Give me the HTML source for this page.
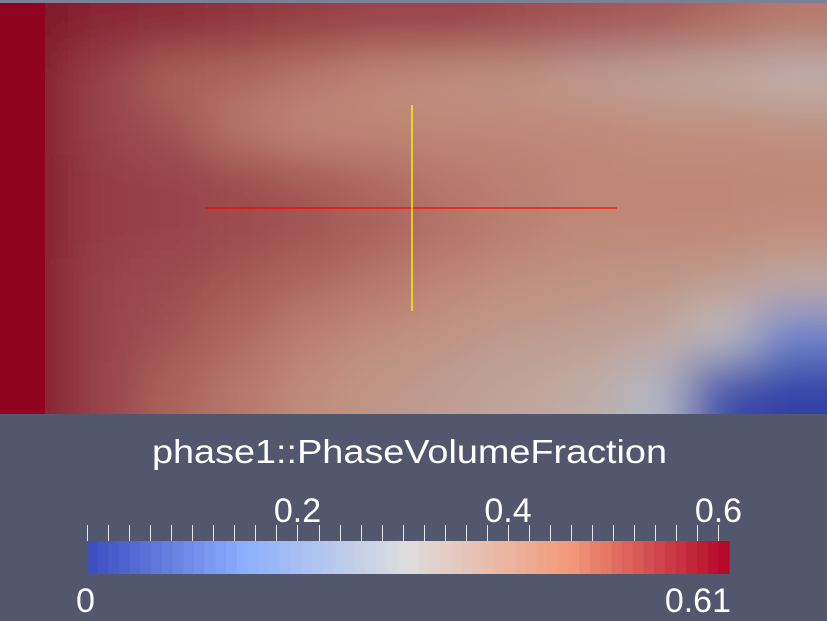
<!DOCTYPE html>
<html><head><meta charset="utf-8"><style>
body{margin:0;background:#52576e;width:827px;height:621px;overflow:hidden;font-family:"Liberation Sans","DejaVu Sans",sans-serif}
svg{display:block}
</style></head><body>
<svg id="chart" width="827" height="621" xmlns="http://www.w3.org/2000/svg">
<defs>
<filter id="blur" x="-0.2" y="-0.2" width="1.4" height="1.4"><feGaussianBlur stdDeviation="24"/></filter>
<clipPath id="clip"><rect x="0" y="0" width="827" height="414"/></clipPath>
</defs>
<rect width="827" height="621" fill="#52576e"/>
<g id="field" clip-path="url(#clip)">
<g id="cells" filter="url(#blur)"></g>
<rect x="0" y="0" width="45" height="414" fill="#900320"/>
</g>
<rect x="0" y="0" width="827" height="3" fill="#7c8094"/>
<line x1="205" y1="208" x2="617" y2="208" stroke="#ff0000" stroke-width="1.3"/>
<line x1="412" y1="105" x2="412" y2="311" stroke="#ffff00" stroke-width="1.3"/>
<text x="152" y="463" textLength="515" lengthAdjust="spacingAndGlyphs" fill="#fff" font-size="33">phase1::PhaseVolumeFraction</text>
<g id="cbarg"></g>
</svg>
<script>
const gridRows = [
[0.62,0.59,0.58,0.57,0.56,0.55,0.55,0.54,0.53,0.52,0.50,0.48],
[0.60,0.55,0.51,0.50,0.48,0.46,0.44,0.43,0.40,0.38,0.36,0.34],
[0.60,0.55,0.53,0.48,0.46,0.46,0.46,0.46,0.46,0.45,0.45,0.44],
[0.60,0.56,0.55,0.54,0.52,0.50,0.48,0.47,0.46,0.46,0.46,0.46],
[0.60,0.56,0.55,0.54,0.53,0.51,0.49,0.47,0.46,0.46,0.46,0.45],
[0.60,0.55,0.54,0.52,0.50,0.48,0.46,0.44,0.43,0.42,0.40,0.36],
[0.60,0.55,0.53,0.50,0.47,0.45,0.43,0.41,0.40,0.38,0.30,0.12],
[0.60,0.55,0.51,0.48,0.45,0.42,0.40,0.38,0.36,0.28,0.02,0.0]
];
const rangeMin = 0, rangeMax = 0.61;
const tickLabels = [0.2, 0.4, 0.6];
const tickStep = 0.02;
const NS="http://www.w3.org/2000/svg";
const stops=[[0,[59,76,192]],[0.25,[141,176,254]],[0.5,[221,221,221]],[0.75,[244,154,123]],[1,[180,4,38]]];
function cmap(v,shade,desat){let t=Math.max(0,Math.min(1,(v-rangeMin)/(rangeMax-rangeMin)));
 let c=stops[4][1];
 for(let i=1;i<stops.length;i++){if(t<=stops[i][0]){const a=stops[i-1],b=stops[i];const f=(t-a[0])/(b[0]-a[0]);
 c=a[1].map((x,k)=>x+(b[1][k]-x)*f);break;}}
 const d=t<0.5?0:desat;
 const gr=(c[0]+c[1]+c[2])/3;
 c=c.map(x=>Math.round((x+(gr-x)*d)*shade));
 return `rgb(${c})`;}
const W=827,H=414,P=80;
const cw=W/gridRows[0].length, ch=H/gridRows.length;
const nr=gridRows.length, nc=gridRows[0].length;
const cells=document.getElementById('cells');
gridRows.forEach((row,r)=>row.forEach((v,c)=>{
 let x=c*cw-1,y=r*ch-1,w=cw+2,h=ch+2;
 if(c===0){x-=P;w+=P;} if(c===nc-1){w+=P;}
 if(r===0){y-=P;h+=P;} if(r===nr-1){h+=P;}
 const e=document.createElementNS(NS,'rect');
 e.setAttribute('x',x);e.setAttribute('y',y);e.setAttribute('width',w);e.setAttribute('height',h);
 e.setAttribute('fill',cmap(v,0.86,0.3));
 
 
 cells.appendChild(e);}));
const bx0=87,bx1=729,by0=541,by1=574;
const xs=v=>bx0+(v-rangeMin)/(rangeMax-rangeMin)*(bx1-bx0);
const g=document.getElementById('cbarg');
const n=60;
for(let i=0;i<n;i++){const v0=rangeMin+(rangeMax-rangeMin)*i/n,v1=rangeMin+(rangeMax-rangeMin)*(i+1)/n;
 const e=document.createElementNS(NS,'rect');
 e.setAttribute('x',xs(v0));e.setAttribute('y',by0);e.setAttribute('width',xs(v1)-xs(v0)+0.6);e.setAttribute('height',by1-by0);
 e.setAttribute('fill',cmap((v0+v1)/2,1,0));
 
 
 g.appendChild(e);}
for(let v=0;v<=rangeMax+1e-9;v+=tickStep){const l=document.createElementNS(NS,'line');
 const x=Math.round(xs(v))+0.5;l.setAttribute('x1',x);l.setAttribute('x2',x);l.setAttribute('y1',525);l.setAttribute('y2',541);
 l.setAttribute('stroke','#e8e8ee');l.setAttribute('stroke-width','1');
 
 
 g.appendChild(l);}
tickLabels.forEach(v=>{const t=document.createElementNS(NS,'text');
 t.setAttribute('x',xs(v));t.setAttribute('y',522);t.setAttribute('text-anchor','middle');t.setAttribute('fill','#fff');t.setAttribute('font-size','34');
 t.textContent=v.toFixed(1);
 
 
 g.appendChild(t);});
const tmin=document.createElementNS(NS,'text');tmin.setAttribute('x',bx0-11);tmin.setAttribute('y',612);tmin.setAttribute('fill','#fff');tmin.setAttribute('font-size','34');tmin.textContent=String(rangeMin);


g.appendChild(tmin);
const tmax=document.createElementNS(NS,'text');tmax.setAttribute('x',bx1+2);tmax.setAttribute('y',612);tmax.setAttribute('text-anchor','end');tmax.setAttribute('fill','#fff');tmax.setAttribute('font-size','34');tmax.textContent=String(rangeMax);


g.appendChild(tmax);
</script>
</body></html>
